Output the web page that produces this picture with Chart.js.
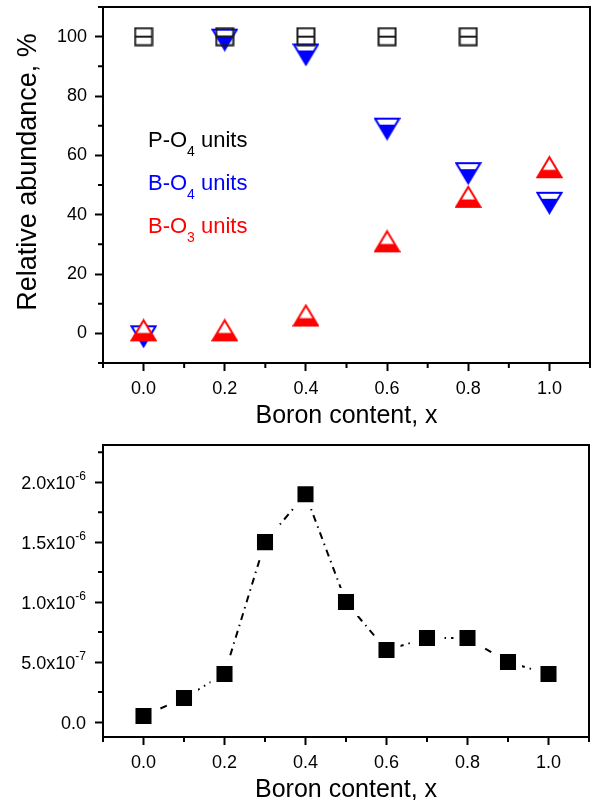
<!DOCTYPE html>
<html>
<head>
<meta charset="utf-8">
<script src="https://cdn.jsdelivr.net/npm/chart.js@4.4.1/dist/chart.umd.min.js"></script>
<style>
  body { margin: 0; background: #fff; }
  canvas { display: block; }
</style>
</head>
<body>
<canvas id="topChart" width="592" height="432"></canvas>
<canvas id="bottomChart" width="592" height="368"></canvas>
<script>
// top panel: relative abundance of structural units
var boronX = [0.0, 0.2, 0.4, 0.6, 0.8, 1.0];
var po4Values = [100, 100, 100, 100, 100];
var bo4Values = [-1, 99, 94, 69, 54, 44];
var bo3Values = [1, 1, 6, 31, 46, 56];

var xMajorTicks = [0.0, 0.2, 0.4, 0.6, 0.8, 1.0];
var xMinorTicks = [-0.1, 0.1, 0.3, 0.5, 0.7, 0.9, 1.1];
var topYMajorTicks = [0, 20, 40, 60, 80, 100];
var topYMinorTicks = [-10, 10, 30, 50, 70, 90, 110];

// bottom panel
var rateX = [0.0, 0.1, 0.2, 0.3, 0.4, 0.5, 0.6, 0.7, 0.8, 0.9, 1.0];
var rateValues = [0.05e-6, 0.2e-6, 0.4e-6, 1.5e-6, 1.9e-6, 1.0e-6, 0.6e-6, 0.7e-6, 0.7e-6, 0.5e-6, 0.4e-6];
var bottomYMajorTicks = [0, 5e-7, 1e-6, 1.5e-6, 2e-6];
var bottomYMinorTicks = [2.5e-7, 7.5e-7, 1.25e-6, 1.75e-6, 2.25e-6];
var bottomYMantissa = ['0.0', '5.0', '1.0', '1.5', '2.0'];
var bottomYExponent = ['', '-7', '-6', '-6', '-6'];

var FONT = "'Liberation Sans', Arial, sans-serif";
var BLUE = 'rgb(0, 0, 255)';
var RED = 'rgb(255, 0, 0)';

function toPoints(xs, ys) {
    return ys.map(function(v, i){ return {x: xs[i], y: v}; });
}

function makeSquareMarker() {
    var c = document.createElement('canvas');
    c.width = 20; c.height = 20;
    var g = c.getContext('2d');
    g.strokeStyle = '#1a1a1a';
    g.lineWidth = 2;
    g.strokeRect(1.5, 1.5, 17, 17);
    g.beginPath();
    g.moveTo(1.5, 10); g.lineTo(18.5, 10);
    g.stroke();
    return c;
}

function makeTriangle(color, down, cutAt) {
    var w = 27, h = 24;
    var c = document.createElement('canvas');
    c.width = w; c.height = h;
    var g = c.getContext('2d');
    var top = 2, bot = h - 2, l = 1.5, r = w - 1.5, mid = w / 2;
    g.beginPath();
    if (down) { g.moveTo(l, top); g.lineTo(r, top); g.lineTo(mid, bot); }
    else { g.moveTo(mid, top); g.lineTo(r, bot); g.lineTo(l, bot); }
    g.closePath();
    g.fillStyle = '#fff';
    g.fill();
    g.save();
    g.clip();
    g.fillStyle = color;
    var cut = top + cutAt * (bot - top);
    g.fillRect(0, cut, w, h - cut);
    g.restore();
    g.strokeStyle = color;
    g.lineWidth = 2;
    g.stroke();
    return c;
}

function drawRich(ctx, x, y, parts, color, size) {
    ctx.fillStyle = color;
    ctx.textAlign = 'left';
    ctx.textBaseline = 'alphabetic';
    parts.forEach(function(p){
        var s = p.sub ? Math.round(size * 0.64) : size;
        ctx.font = s + 'px ' + FONT;
        ctx.fillText(p.t, x, p.sub ? y + 9 : y);
        x += ctx.measureText(p.t).width;
    });
}

var axisFrame = {
    id: 'axisFrame',
    afterDraw: function(chart, args, opts) {
        var ctx = chart.ctx, a = chart.chartArea;
        var xs = chart.scales.x, ys = chart.scales.y;
        ctx.save();
        ctx.strokeStyle = '#000';
        ctx.lineWidth = 2;
        ctx.strokeRect(a.left, a.top, a.right - a.left, a.bottom - a.top);
        ctx.beginPath();
        opts.xMinor.forEach(function(v){
            var p = xs.getPixelForValue(v);
            ctx.moveTo(p, a.bottom); ctx.lineTo(p, a.bottom + 5);
        });
        opts.yMinor.forEach(function(v){
            var p = ys.getPixelForValue(v);
            ctx.moveTo(a.left - 5, p); ctx.lineTo(a.left, p);
        });
        ctx.stroke();

        ctx.fillStyle = '#000';
        ctx.textAlign = 'center';
        ctx.textBaseline = 'alphabetic';
        ctx.font = '25px ' + FONT;
        ctx.fillText('Boron content, x', (a.left + a.right) / 2, a.bottom + 60);
        ctx.restore();
    }
};

var topLabels = {
    id: 'topLabels',
    afterDraw: function(chart) {
        var ctx = chart.ctx;
        ctx.save();
        ctx.font = '27px ' + FONT;
        ctx.fillStyle = '#000';
        ctx.textAlign = 'center';
        ctx.textBaseline = 'alphabetic';
        ctx.translate(36, 172);
        ctx.rotate(-Math.PI / 2);
        ctx.fillText('Relative abundance, %', 0, 0);
        ctx.restore();

        ctx.save();
        drawRich(ctx, 148, 147, [{t: 'P-O'}, {t: '4', sub: true}, {t: ' units'}], '#000', 22);
        drawRich(ctx, 148, 190, [{t: 'B-O'}, {t: '4', sub: true}, {t: ' units'}], BLUE, 22);
        drawRich(ctx, 148, 233, [{t: 'B-O'}, {t: '3', sub: true}, {t: ' units'}], RED, 22);
        ctx.restore();
    }
};

var bottomLabels = {
    id: 'bottomLabels',
    afterDraw: function(chart) {
        var ctx = chart.ctx, ys = chart.scales.y;
        ctx.save();
        ctx.fillStyle = '#000';
        ctx.textBaseline = 'alphabetic';
        ctx.textAlign = 'left';
        bottomYMajorTicks.forEach(function(v, i){
            var py = ys.getPixelForValue(v);
            var main = bottomYMantissa[i] + (bottomYExponent[i] ? 'x10' : '');
            ctx.font = '18px ' + FONT;
            var wMain = ctx.measureText(main).width;
            ctx.font = '12px ' + FONT;
            var wExp = ctx.measureText(bottomYExponent[i]).width;
            var x0 = 86 - wMain - wExp;
            ctx.font = '18px ' + FONT;
            ctx.fillText(main, x0, py + 6.5);
            ctx.font = '12px ' + FONT;
            ctx.fillText(bottomYExponent[i], x0 + wMain, py - 2);
        });
        ctx.restore();
    }
};

function xAxis(height) {
    return {
        type: 'linear',
        min: -0.1,
        max: 1.1,
        afterBuildTicks: function(s){ s.ticks = xMajorTicks.map(function(v){ return {value: v}; }); },
        afterFit: function(s){ s.height = height; s.paddingLeft = 0; s.paddingRight = 0; },
        grid: { display: true, drawOnChartArea: false, tickLength: 8, tickWidth: 2, tickColor: '#000' },
        border: { display: true, width: 2, color: '#000' },
        ticks: {
            color: '#000',
            padding: 7,
            font: { family: FONT, size: 18 },
            maxRotation: 0,
            callback: function(v){ return v.toFixed(1); }
        }
    };
}

function yAxis(min, max, majors, showLabels) {
    return {
        type: 'linear',
        min: min,
        max: max,
        afterBuildTicks: function(s){ s.ticks = majors.map(function(v){ return {value: v}; }); },
        afterFit: function(s){ s.width = 103; s.paddingTop = 0; s.paddingBottom = 0; },
        grid: { display: true, drawOnChartArea: false, tickLength: 8, tickWidth: 2, tickColor: '#000' },
        border: { display: true, width: 2, color: '#000' },
        ticks: {
            display: showLabels,
            color: '#000',
            padding: 8,
            font: { family: FONT, size: 18 }
        }
    };
}

var topConfig = {
    type: 'scatter',
    data: {
        datasets: [{
            label: 'P-O4 units',
            data: toPoints(boronX, po4Values),
            pointStyle: makeSquareMarker(),
            pointRadius: 10
        }, {
            label: 'B-O3 units',
            data: toPoints(boronX, bo3Values),
            pointStyle: makeTriangle(RED, false, 0.63),
            pointRadius: 10
        }, {
            label: 'B-O4 units',
            data: toPoints(boronX, bo4Values),
            pointStyle: makeTriangle(BLUE, true, 0.3),
            pointRadius: 10
        }]
    },
    options: {
        responsive: false,
        animation: false,
        events: [],
        layout: { autoPadding: false, padding: { top: 7, right: 2, left: 0, bottom: 0 } },
        plugins: {
            legend: { display: false },
            tooltip: { enabled: false },
            axisFrame: { xMinor: xMinorTicks, yMinor: topYMinorTicks }
        },
        scales: {
            x: xAxis(69),
            y: yAxis(-10, 110, topYMajorTicks, true)
        }
    },
    plugins: [axisFrame, topLabels]
};

var bottomConfig = {
    type: 'scatter',
    data: {
        datasets: [{
            label: 'rate',
            data: toPoints(rateX, rateValues),
            showLine: true,
            borderColor: '#000',
            borderWidth: 2,
            borderDash: [7, 5, 1.5, 5],
            pointStyle: 'rect',
            pointRadius: 15.6,
            pointBackgroundColor: '#000',
            pointBorderColor: '#fff',
            pointBorderWidth: 6
        }]
    },
    options: {
        responsive: false,
        animation: false,
        events: [],
        layout: { autoPadding: false, padding: { top: 13, right: 3, left: 0, bottom: 0 } },
        plugins: {
            legend: { display: false },
            tooltip: { enabled: false },
            axisFrame: { xMinor: xMinorTicks, yMinor: bottomYMinorTicks }
        },
        scales: {
            x: xAxis(63),
            y: yAxis(-1.25e-7, 2.31e-6, bottomYMajorTicks, false)
        }
    },
    plugins: [axisFrame, bottomLabels]
};

window.onload = function(){
    window.topChart = new Chart(document.getElementById('topChart').getContext('2d'), topConfig);
    window.bottomChart = new Chart(document.getElementById('bottomChart').getContext('2d'), bottomConfig);
};
</script>
</body>
</html>
